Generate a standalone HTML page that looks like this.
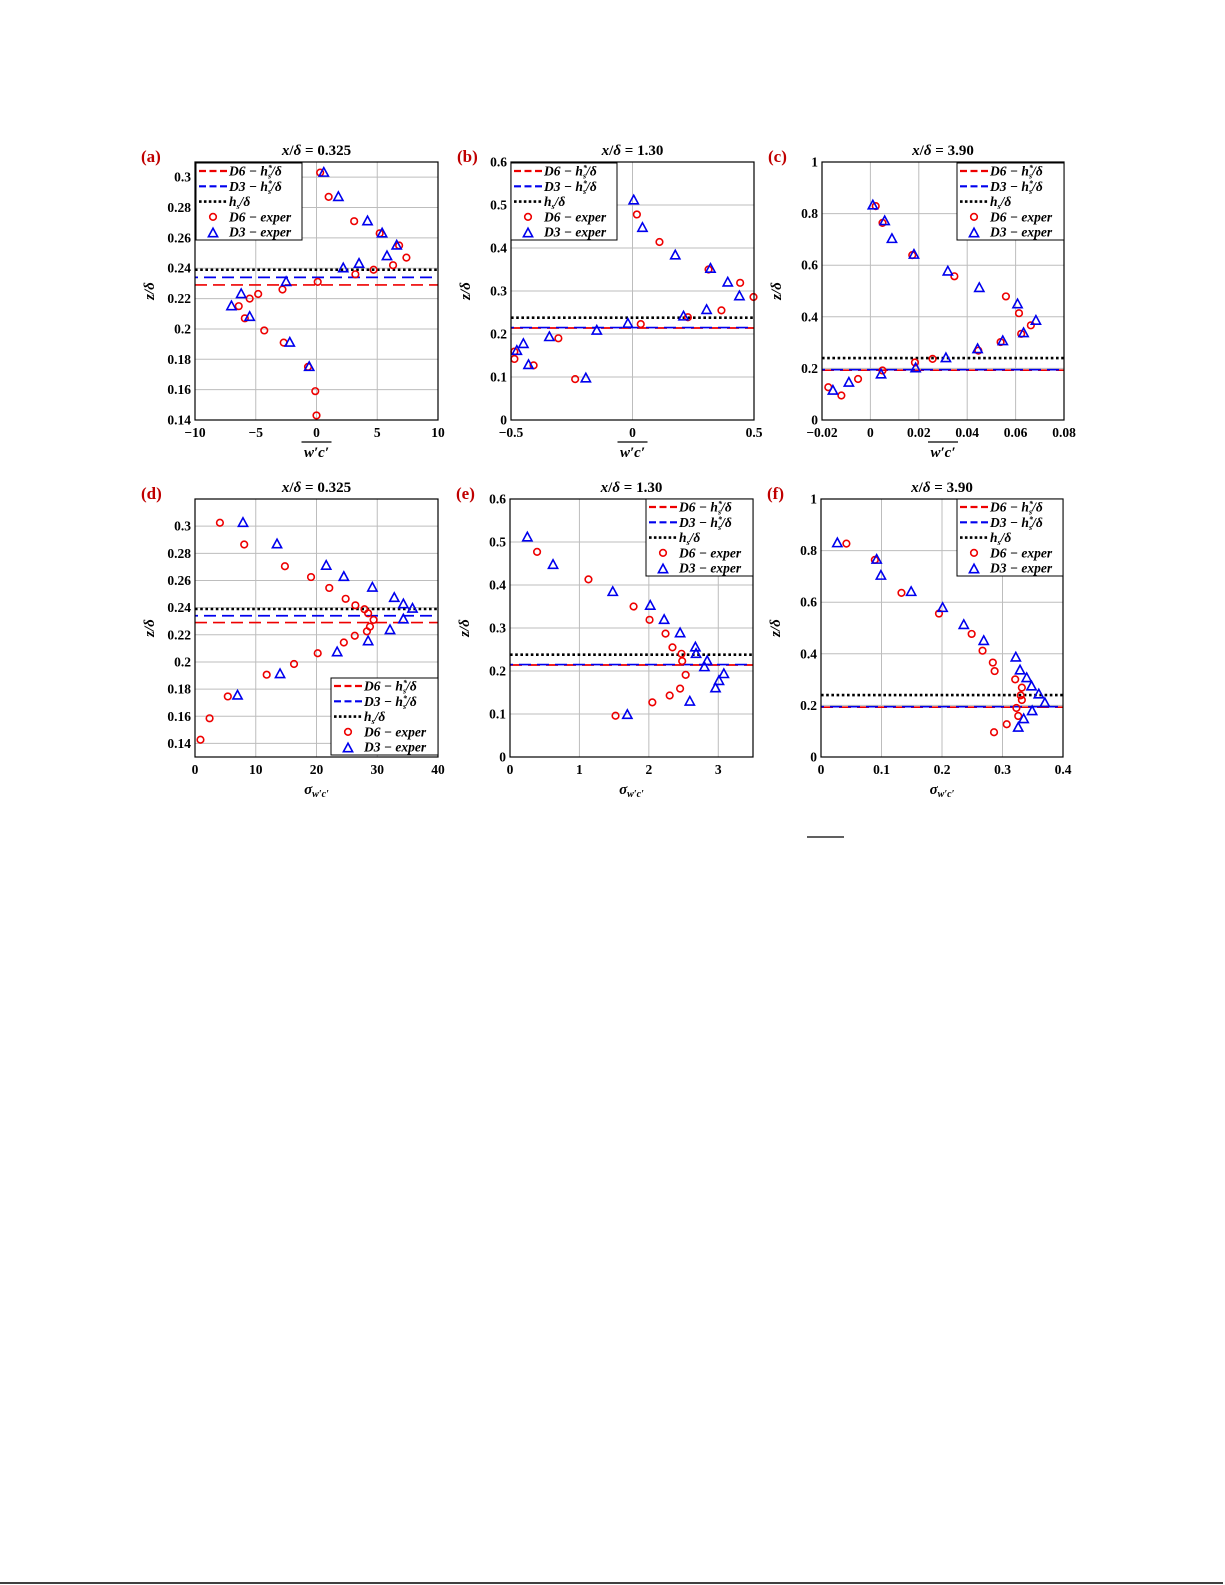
<!DOCTYPE html>
<html><head><meta charset="utf-8"><style>
html,body{margin:0;padding:0;background:#fff;}
svg{display:block;}
text{font-family:"Liberation Serif","DejaVu Serif",serif;}
</style></head><body>
<svg id="fig" width="1225" height="1585" viewBox="0 0 1225 1585" xmlns="http://www.w3.org/2000/svg">
<line x1="807" y1="837" x2="844" y2="837" stroke="#000" stroke-width="1.3"/>
<line x1="0" y1="1583" x2="1223" y2="1583" stroke="#000" stroke-width="1.5"/>
</svg>
<script>
// ---------- data ----------
const aD6x=[0.3,1.0,3.1,5.2,6.8,7.4,6.3,4.7,3.2,0.1,-2.8,-4.8,-5.5,-6.4,-5.9,-4.3,-2.7,-0.7,-0.1,0];
const aD6y=[0.303,0.287,0.271,0.263,0.255,0.247,0.242,0.239,0.236,0.231,0.226,0.223,0.220,0.215,0.207,0.199,0.191,0.175,0.159,0.143];
const aD3x=[0.6,1.8,4.2,5.4,6.6,5.8,3.5,2.2,-2.5,-6.2,-7.0,-5.5,-2.2,-0.6];
const aD3y=[0.303,0.287,0.271,0.263,0.255,0.248,0.243,0.240,0.231,0.223,0.215,0.208,0.191,0.175];
const bD6x=[0.018,0.111,0.313,0.443,0.498,0.366,0.228,0.034,-0.305,-0.407,-0.236,-0.486,-0.486];
const bD6y=[0.478,0.414,0.350,0.319,0.286,0.255,0.239,0.223,0.190,0.127,0.095,0.142,0.159];
const bD3x=[0.005,0.041,0.176,0.321,0.392,0.44,0.305,0.21,-0.019,-0.147,-0.342,-0.449,-0.476,-0.428,-0.192];
const bD3y=[0.511,0.447,0.383,0.352,0.320,0.288,0.256,0.241,0.224,0.208,0.193,0.177,0.161,0.128,0.097];
const cD6x=[0.0022,0.005,0.0173,0.0347,0.056,0.0614,0.0623,0.0663,0.0538,0.0446,0.0257,0.0184,0.005,-0.0051,-0.012,-0.0174];
const cD6y=[0.829,0.764,0.639,0.557,0.479,0.414,0.334,0.367,0.302,0.269,0.237,0.223,0.192,0.159,0.095,0.127];
const cD3x=[0.001,0.0059,0.0089,0.018,0.032,0.045,0.0608,0.0684,0.0633,0.0547,0.0443,0.0312,0.0187,0.0044,-0.0089,-0.0155];
const cD3y=[0.832,0.771,0.702,0.641,0.576,0.512,0.449,0.385,0.337,0.306,0.275,0.240,0.201,0.177,0.145,0.114];
const dD6x=[4.1,8.1,14.8,19.1,22.1,24.8,26.4,27.9,28.5,29.4,28.8,28.3,26.3,24.5,20.2,16.3,11.8,5.4,2.4,0.9];
const dD6y=[0.3025,0.2865,0.2705,0.2625,0.2545,0.2465,0.2417,0.2388,0.2358,0.231,0.226,0.2225,0.2193,0.2143,0.2064,0.1985,0.1906,0.1746,0.1585,0.1427];
const dD3x=[7.9,13.5,21.6,24.5,29.2,32.8,34.3,35.8,34.3,32.1,28.5,23.4,14.0,7.0];
const dD3y=[0.3025,0.2867,0.2709,0.2627,0.2548,0.2472,0.2425,0.2393,0.2314,0.2235,0.2153,0.2072,0.1911,0.1753];
const eD6x=[0.39,1.13,1.78,2.01,2.24,2.34,2.47,2.48,2.53,2.45,2.3,2.05,1.52];
const eD6y=[0.477,0.413,0.35,0.319,0.287,0.255,0.24,0.223,0.191,0.159,0.143,0.127,0.096];
const eD3x=[0.25,0.62,1.48,2.02,2.22,2.45,2.67,2.68,2.84,2.80,3.08,3.01,2.96,2.59,1.69];
const eD3y=[0.511,0.447,0.384,0.352,0.319,0.288,0.255,0.24,0.223,0.209,0.193,0.177,0.16,0.129,0.098];
const fD6x=[0.042,0.089,0.133,0.195,0.249,0.267,0.284,0.287,0.321,0.332,0.33,0.332,0.323,0.326,0.307,0.286];
const fD6y=[0.827,0.764,0.636,0.556,0.477,0.412,0.366,0.333,0.301,0.269,0.239,0.221,0.19,0.159,0.127,0.096];
const fD3x=[0.027,0.092,0.099,0.149,0.201,0.236,0.269,0.322,0.329,0.34,0.348,0.36,0.37,0.349,0.335,0.326];
const fD3y=[0.829,0.765,0.703,0.640,0.578,0.512,0.45,0.386,0.336,0.306,0.274,0.243,0.209,0.178,0.147,0.114];
const hLevelsA=[0.229,0.234,0.239]; // red, blue, black
const hLevelsB=[0.214,0.215,0.238];
const hLevelsC=[0.193,0.195,0.240];
const ticksA=[-10,-5,0,5,10], ticksAy=[0.14,0.16,0.18,0.2,0.22,0.24,0.26,0.28,0.3];
const ticksB=[-0.5,0,0.5], ticksBy=[0,0.1,0.2,0.3,0.4,0.5,0.6];
const ticksC=[-0.02,0,0.02,0.04,0.06,0.08], ticksCy=[0,0.2,0.4,0.6,0.8,1];
const ticksD=[0,10,20,30,40], ticksDy=[0.14,0.16,0.18,0.2,0.22,0.24,0.26,0.28,0.3];
const ticksE=[0,1,2,3], ticksEy=[0,0.1,0.2,0.3,0.4,0.5,0.6];
const ticksF=[0,0.1,0.2,0.3,0.4], ticksFy=[0,0.2,0.4,0.6,0.8,1];

const NS='http://www.w3.org/2000/svg';
const svg=document.getElementById('fig');
function mk(tag,attrs,parent){const e=document.createElementNS(NS,tag);for(const k in attrs)e.setAttribute(k,attrs[k]);(parent||svg).appendChild(e);return e;}
function fmt(v){if(v===0)return '0';let s=String(+v.toFixed(3));return s.replace('-','\u2212');}

const panels=[
 {id:'a',L:195,T:162,W:243,H:258,x0:-10,x1:10,y0:0.14,y1:0.31,xt:ticksA,yt:ticksAy,h:hLevelsA,d6x:aD6x,d6y:aD6y,d3x:aD3x,d3y:aD3y,title:'0.325',xl:'wc',leg:[196,163,106]},
 {id:'b',L:511,T:162,W:243,H:258,x0:-0.5,x1:0.5,y0:0,y1:0.6,xt:ticksB,yt:ticksBy,h:hLevelsB,d6x:bD6x,d6y:bD6y,d3x:bD3x,d3y:bD3y,title:'1.30',xl:'wc',leg:[511,163,106]},
 {id:'c',L:822,T:162,W:242,H:258,x0:-0.02,x1:0.08,y0:0,y1:1,xt:ticksC,yt:ticksCy,h:hLevelsC,d6x:cD6x,d6y:cD6y,d3x:cD3x,d3y:cD3y,title:'3.90',xl:'wc',leg:[957,163,107]},
 {id:'d',L:195,T:499,W:243,H:258,x0:0,x1:40,y0:0.13,y1:0.32,xt:ticksD,yt:ticksDy,h:hLevelsA,d6x:dD6x,d6y:dD6y,d3x:dD3x,d3y:dD3y,title:'0.325',xl:'sig',leg:[331,678,107]},
 {id:'e',L:510,T:499,W:243,H:258,x0:0,x1:3.5,y0:0,y1:0.6,xt:ticksE,yt:ticksEy,h:hLevelsB,d6x:eD6x,d6y:eD6y,d3x:eD3x,d3y:eD3y,title:'1.30',xl:'sig',leg:[646,499,107]},
 {id:'f',L:821,T:499,W:242,H:258,x0:0,x1:0.4,y0:0,y1:1,xt:ticksF,yt:ticksFy,h:hLevelsC,d6x:fD6x,d6y:fD6y,d3x:fD3x,d3y:fD3y,title:'3.90',xl:'sig',leg:[957,499,106]}
];

function tri(g,cx,cy,name){
  const p=mk('polygon',{points:`${cx},${cy-5} ${cx-4.6},${cy+3.5} ${cx+4.6},${cy+3.5}`,fill:'none',stroke:'#0000ee','stroke-width':1.6},g);
  
  
}
function circ(g,cx,cy,name){
  const c=mk('circle',{cx:cx,cy:cy,r:3.3,fill:'none',stroke:'#ee0000','stroke-width':1.6},g);
  
  
}

panels.forEach(P=>{
  const g=mk('g',{});
  
  
  const sx=v=>P.L+(v-P.x0)/(P.x1-P.x0)*P.W;
  const sy=v=>P.T+P.H-(v-P.y0)/(P.y1-P.y0)*P.H;
  const R=P.L+P.W,B=P.T+P.H;
  P.xt.forEach(t=>{const x=sx(t);
    const l=mk('line',{x1:x,y1:P.T,x2:x,y2:B,stroke:'#bdbdbd','stroke-width':1},g);
    
    const tx=mk('text',{x:x,y:B+17,'text-anchor':'middle','font-size':13.5,'font-weight':'bold'},g);tx.textContent=fmt(t);
    
  });
  P.yt.forEach(t=>{const y=sy(t);
    const l=mk('line',{x1:P.L,y1:y,x2:R,y2:y,stroke:'#bdbdbd','stroke-width':1},g);
    
    const tx=mk('text',{x:P.L-4,y:y+4.5,'text-anchor':'end','font-size':13.5,'font-weight':'bold'},g);tx.textContent=fmt(t);
    
  });
  const cols=['#ee0000','#0000ee'];
  [0,1].forEach(i=>{const l=mk('line',{x1:P.L,y1:sy(P.h[i]),x2:R,y2:sy(P.h[i]),stroke:cols[i],'stroke-width':1.7,'stroke-dasharray':'12,6','stroke-dashoffset':i?9:0},g);
    });
  const bl=mk('line',{x1:P.L,y1:sy(P.h[2]),x2:R,y2:sy(P.h[2]),stroke:'#000','stroke-width':2.6,'stroke-dasharray':'2.6,2.6'},g);
  
  P.d6x.forEach((v,i)=>circ(g,sx(v),sy(P.d6y[i]),'d6-exper-point'));
  P.d3x.forEach((v,i)=>tri(g,sx(v),sy(P.d3y[i]),'d3-exper-point'));
  const fr=mk('rect',{x:P.L,y:P.T,width:P.W,height:P.H,fill:'none',stroke:'#000','stroke-width':1.2},g);
  
  const t=mk('text',{x:P.L+P.W/2,y:P.T-7,'text-anchor':'middle','font-size':15,'font-weight':'bold'},g);
  t.innerHTML='<tspan font-style="italic">x</tspan>/<tspan font-style="italic">δ</tspan> = '+P.title;
  
  const lab=mk('text',{x:P.L-54,y:P.T,'font-size':17,'font-weight':'bold',fill:'#c00000'},g);
  lab.textContent='('+P.id+')';
  
  const yl=mk('text',{x:0,y:0,'text-anchor':'middle','font-size':15,'font-weight':'bold','font-style':'italic',transform:`translate(${P.L-41},${P.T+P.H/2}) rotate(-90)`},g);
  yl.textContent='z/δ';
  
  const xl=mk('text',{x:P.L+P.W/2,y:B+37,'text-anchor':'middle','font-size':15,'font-weight':'bold','font-style':'italic'},g);
  if(P.xl==='wc'){xl.textContent="w′c′";
    const ol=mk('line',{x1:P.L+P.W/2-15,y1:B+22,x2:P.L+P.W/2+15,y2:B+22,stroke:'#000','stroke-width':1.2},g);
    
  } else {xl.innerHTML='σ<tspan font-size="10" dy="3">w′c′</tspan>';}
  
  const [lx,ly,lw]=P.leg;
  const lg=mk('g',{},g);
  
  mk('rect',{x:lx,y:ly,width:lw,height:77,fill:'#fff',stroke:'#000','stroke-width':1},lg);
  const rows=[['D6 − h*s/δ','r'],['D3 − h*s/δ','b'],['hs/δ','k'],['D6 − exper','o'],['D3 − exper','t']];
  rows.forEach((r,i)=>{const y=ly+8+i*15.3;
    const e=mk('g',{},lg);
    
    if(r[1]==='r'||r[1]==='b') mk('line',{x1:lx+3,y1:y,x2:lx+31,y2:y,stroke:r[1]==='r'?'#ee0000':'#0000ee','stroke-width':2.2,'stroke-dasharray':'7,3.5'},e);
    if(r[1]==='k') mk('line',{x1:lx+3,y1:y,x2:lx+31,y2:y,stroke:'#000','stroke-width':2.6,'stroke-dasharray':'2.6,2.3'},e);
    if(r[1]==='o') circ(e,lx+17,y,'legend-marker');
    if(r[1]==='t') tri(e,lx+17,y+1,'legend-marker');
    const tx=mk('text',{x:lx+33,y:y+4.5,'font-size':13.5,'font-style':'italic','font-weight':'bold'},e);
    if(i<2) tx.innerHTML=r[0].slice(0,5)+'h<tspan font-size="8" dy="-5">*</tspan><tspan font-size="8" dx="-4" dy="8">s</tspan><tspan dy="-3">/δ</tspan>';
    else if(i===2) tx.innerHTML='h<tspan font-size="8" dy="3">s</tspan><tspan dy="-3">/δ</tspan>';
    else tx.textContent=r[0];
  });
});
</script>
</body></html>
